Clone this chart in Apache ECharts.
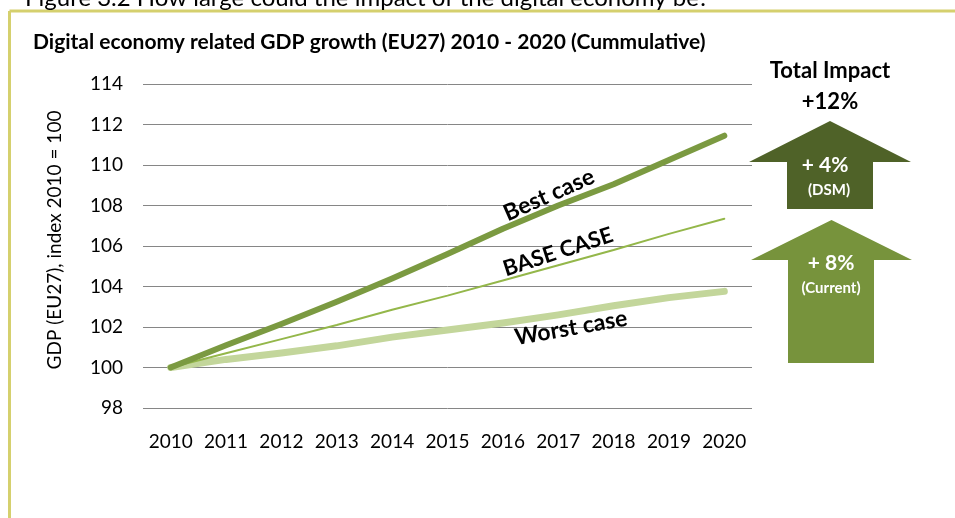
<!DOCTYPE html>
<html>
<head>
<meta charset="utf-8">
<script src="https://cdn.jsdelivr.net/npm/echarts@6/dist/echarts.min.js"></script>
<style>
  html, body { margin: 0; padding: 0; background: #ffffff; }
  #chart { width: 955px; height: 518px; }
</style>
</head>
<body>
<div id="chart"></div>
<script>
// Cumulative GDP index (2010 = 100) for the three digital-economy scenarios
const years = ['2010', '2011', '2012', '2013', '2014', '2015', '2016', '2017', '2018', '2019', '2020'];
const bestCase  = [100, 101.1, 102.15, 103.25, 104.4, 105.6, 106.85, 108.0, 109.05, 110.25, 111.45];
const baseCase  = [100, 100.7, 101.4, 102.1, 102.85, 103.55, 104.3, 105.05, 105.8, 106.6, 107.35];
const worstCase = [100, 100.4, 100.72, 101.07, 101.5, 101.85, 102.2, 102.6, 103.05, 103.45, 103.76];
const seriesNames = ['Best case', 'BASE CASE', 'Worst case'];

// Value axis range
const yMin = 98;
const yMax = 114;
const yStep = 2;

// Impact arrows
const impactTitle = ['Total Impact', '+12%'];
const dsmLabel = ['+ 4%', '(DSM)'];
const currentLabel = ['+ 8%', '(Current)'];

const FONT = 'Lato, "Open Sans", sans-serif';
const chart = echarts.init(document.getElementById('chart'));

function arrow(x0, x1, sx0, sx1, yTip, yHead, yBottom, color) {
  const xm = (x0 + x1) / 2;
  return {
    type: 'polygon',
    shape: { points: [[xm, yTip], [x1, yHead], [sx1, yHead], [sx1, yBottom], [sx0, yBottom], [sx0, yHead], [x0, yHead]] },
    style: { fill: color },
    silent: true
  };
}

function label(text, x, y, size, rot, color, weight) {
  return {
    type: 'text',
    x: x, y: y, rotation: rot * Math.PI / 180,
    style: {
      text: text, fill: color || '#000', font: (weight || 'bold') + ' ' + size + 'px ' + FONT,
      align: 'center', verticalAlign: 'middle'
    },
    silent: true, z: 100
  };
}

const option = {
  animation: false,
  backgroundColor: '#ffffff',
  grid: { left: 143, right: 203, top: 84, bottom: 110 },
  xAxis: {
    type: 'category',
    data: years,
    boundaryGap: true,
    axisLine: { show: false },
    axisTick: { show: false },
    axisLabel: { interval: 0, margin: 24, color: '#000', fontSize: 19, fontFamily: FONT }
  },
  yAxis: {
    type: 'value',
    min: yMin, max: yMax, interval: yStep,
    axisLine: { show: false },
    axisTick: { show: false },
    axisLabel: { margin: 20, color: '#000', fontSize: 19, fontFamily: FONT },
    splitLine: { lineStyle: { color: '#868686', width: 1 } }
  },
  series: [
    {
      name: seriesNames[2], type: 'line', data: worstCase, showSymbol: false, smooth: false,
      lineStyle: { color: '#c3d69b', width: 7, cap: 'round', join: 'round' }, z: 2
    },
    {
      name: seriesNames[1], type: 'line', data: baseCase, showSymbol: false,
      lineStyle: { color: '#94b74a', width: 2, cap: 'round' }, z: 3
    },
    {
      name: seriesNames[0], type: 'line', data: bestCase, showSymbol: false,
      lineStyle: { color: '#7b9a41', width: 6, cap: 'round', join: 'round' }, z: 4
    }
  ],
  graphic: [
    // frame
    { type: 'line', shape: { x1: 9.5, y1: 11, x2: 955, y2: 11 }, style: { stroke: '#d5d06e', lineWidth: 3 }, silent: true },
    { type: 'line', shape: { x1: 9.5, y1: 11, x2: 9.5, y2: 518 }, style: { stroke: '#d5d06e', lineWidth: 3 }, silent: true },
    {
      type: 'text', x: 25, y: 10,
      style: { text: 'Figure 3.2 How large could the impact of the digital economy be?', fill: '#000',
        font: '24px ' + FONT, align: 'left', verticalAlign: 'bottom' }, silent: true
    },
    {
      type: 'text', x: 33, y: 42,
      style: { text: 'Digital economy related GDP growth (EU27) 2010 - 2020 (Cummulative)', fill: '#000',
        font: 'bold 21px ' + FONT, align: 'left', verticalAlign: 'middle' }, silent: true
    },
    {
      type: 'text', x: 55, y: 240, rotation: Math.PI / 2,
      style: { text: 'GDP (EU27), index 2010 = 100', fill: '#000', font: '19px ' + FONT,
        align: 'center', verticalAlign: 'middle' }, silent: true
    },
    // scenario labels
    label(seriesNames[0], 549, 195, 23, 24, '#000'),
    label(seriesNames[1], 558, 252, 22, 18, '#000'),
    label(seriesNames[2], 571, 328, 23, 10, '#000'),
    // impact arrows
    arrow(749, 911, 787, 873, 121, 162, 209, '#4f6228'),
    arrow(751, 912, 788, 874, 220, 260, 363, '#77933c'),
    label(impactTitle[0], 830, 71, 22, 0, '#000'),
    label(impactTitle[1], 830, 102, 22, 0, '#000'),
    label(dsmLabel[0], 825, 165, 21, 0, '#fff'),
    label(dsmLabel[1], 829, 190, 15, 0, '#fff'),
    label(currentLabel[0], 831, 263, 21, 0, '#fff'),
    label(currentLabel[1], 831, 288, 15, 0, '#fff')
  ]
};

chart.setOption(option);
</script>
</body>
</html>
